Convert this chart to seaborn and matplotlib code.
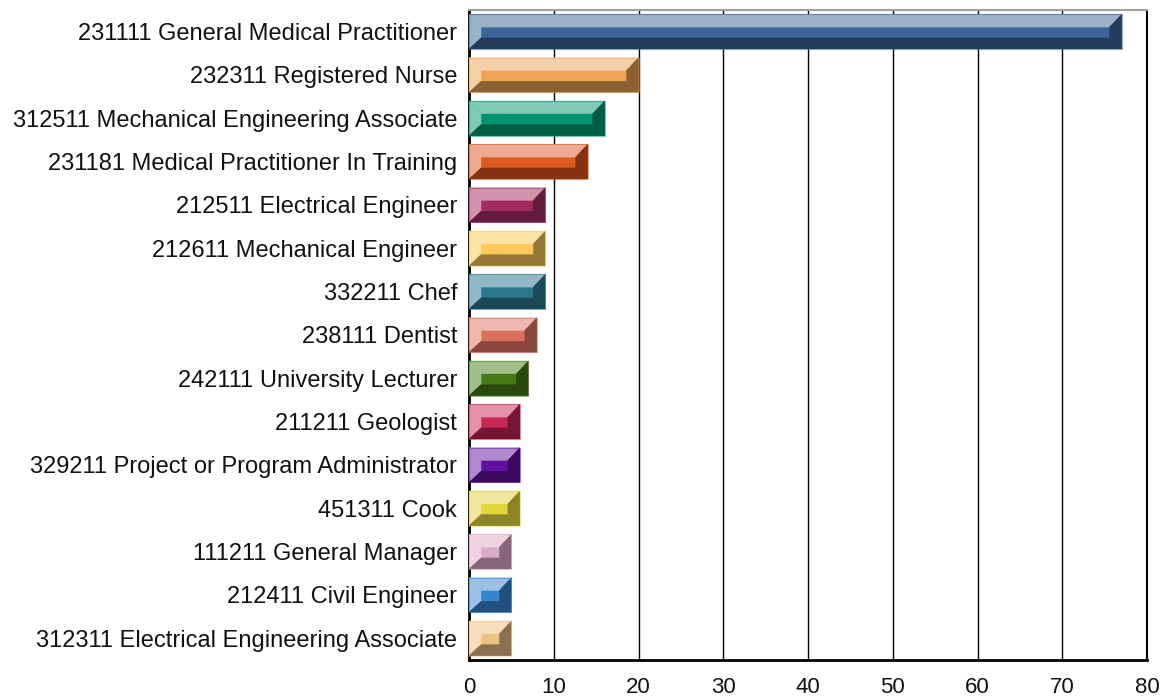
import matplotlib
matplotlib.use("Agg")
import matplotlib.pyplot as plt
from matplotlib.patches import Polygon
import seaborn as sns
import pandas as pd

# data
occupations = [
    "231111 General Medical Practitioner",
    "232311 Registered Nurse",
    "312511 Mechanical Engineering Associate",
    "231181 Medical Practitioner In Training",
    "212511 Electrical Engineer",
    "212611 Mechanical Engineer",
    "332211 Chef",
    "238111 Dentist",
    "242111 University Lecturer",
    "211211 Geologist",
    "329211 Project or Program Administrator",
    "451311 Cook",
    "111211 General Manager",
    "212411 Civil Engineer",
    "312311 Electrical Engineering Associate",
]
counts = [77, 20, 16, 14, 9, 9, 9, 8, 7, 6, 6, 6, 5, 5, 5]

# face colours per bar: light bevel, middle, dark bevel
light = ["#9CB0C8", "#F6D0A8", "#80C9B6", "#ECAB90", "#D093AB", "#FDE3A8", "#92B8C6", "#ECB8B0",
         "#A2BE8A", "#E592A8", "#B08ACC", "#F0E69E", "#EED2E2", "#9CC0E6", "#F8DDC0"]
mid = ["#3A6699", "#EEA452", "#009370", "#DD5A20", "#A02C5E", "#FFC95C", "#2A788C", "#DB705E",
       "#457A14", "#C82A55", "#6010A0", "#E2D63A", "#DCA8C8", "#3385CC", "#F0C080"]
dark = ["#233D5E", "#8C6030", "#005C43", "#873210", "#621A3E", "#947838", "#1A4A58", "#88463C",
        "#2A4A0C", "#761634", "#3A0A5E", "#8C8428", "#88667A", "#21507E", "#8A7050"]

df = pd.DataFrame({"occupation": occupations, "count": counts})

sns.set_style("white")
plt.rcParams["font.family"] = ["Liberation Sans", "DejaVu Sans"]

fig = plt.figure(figsize=(11.67, 6.97), dpi=100)
ax = fig.add_axes([0.4019, 0.0531, 0.581, 0.9326])

sns.barplot(data=df, x="count", y="occupation", hue="occupation", palette=mid,
            saturation=1, legend=False, width=0.8, orient="h", ax=ax, linewidth=0, zorder=2)

# bevel depth in data units (~12 px across, ~13 px top, ~11 px bottom)
bx, bt, bb = 1.42, 0.295, 0.255
for i, p in enumerate(ax.patches):
    x0, ya = p.get_x(), p.get_y()
    x1, yb = x0 + p.get_width(), ya + p.get_height()
    shapes = [
        ([(x0, ya), (x1, ya), (x1 - bx, ya + bt), (x0 + bx, ya + bt)], light[i]),
        ([(x0, ya), (x0 + bx, ya + bt), (x0 + bx, yb - bb), (x0, yb)], light[i]),
        ([(x0, yb), (x0 + bx, yb - bb), (x1 - bx, yb - bb), (x1, yb)], dark[i]),
        ([(x1, ya), (x1 - bx, ya + bt), (x1 - bx, yb - bb), (x1, yb)], dark[i]),
    ]
    for pts, c in shapes:
        ax.add_patch(Polygon(pts, closed=True, facecolor=c, edgecolor=c, lw=0.3, zorder=3))
    ax.add_patch(Polygon([(x0, ya), (x1, ya), (x1, yb), (x0, yb)], closed=True,
                         fill=False, edgecolor=mid[i], lw=0.8, alpha=0.5, zorder=4))

ax.set_xlim(0, 80)
ax.set_ylim(14.5, -0.5)
ax.set_xticks(range(0, 81, 10))
ax.xaxis.grid(True, color="black", lw=1)
ax.set_axisbelow(True)
ax.set_xlabel("")
ax.set_ylabel("")
ax.tick_params(axis="both", length=0, colors="#111111")
ax.tick_params(axis="x", pad=12, labelsize=16)
ax.tick_params(axis="y", pad=8.5, labelsize=17)

for side in ["left", "bottom", "right"]:
    ax.spines[side].set_color("black")
ax.spines["left"].set_linewidth(2)
ax.spines["bottom"].set_linewidth(2)
ax.spines["right"].set_linewidth(1.5)
ax.spines["top"].set_color("#A0A0A0")
ax.spines["top"].set_linewidth(1.5)

fig.savefig("out.png", dpi=100)
